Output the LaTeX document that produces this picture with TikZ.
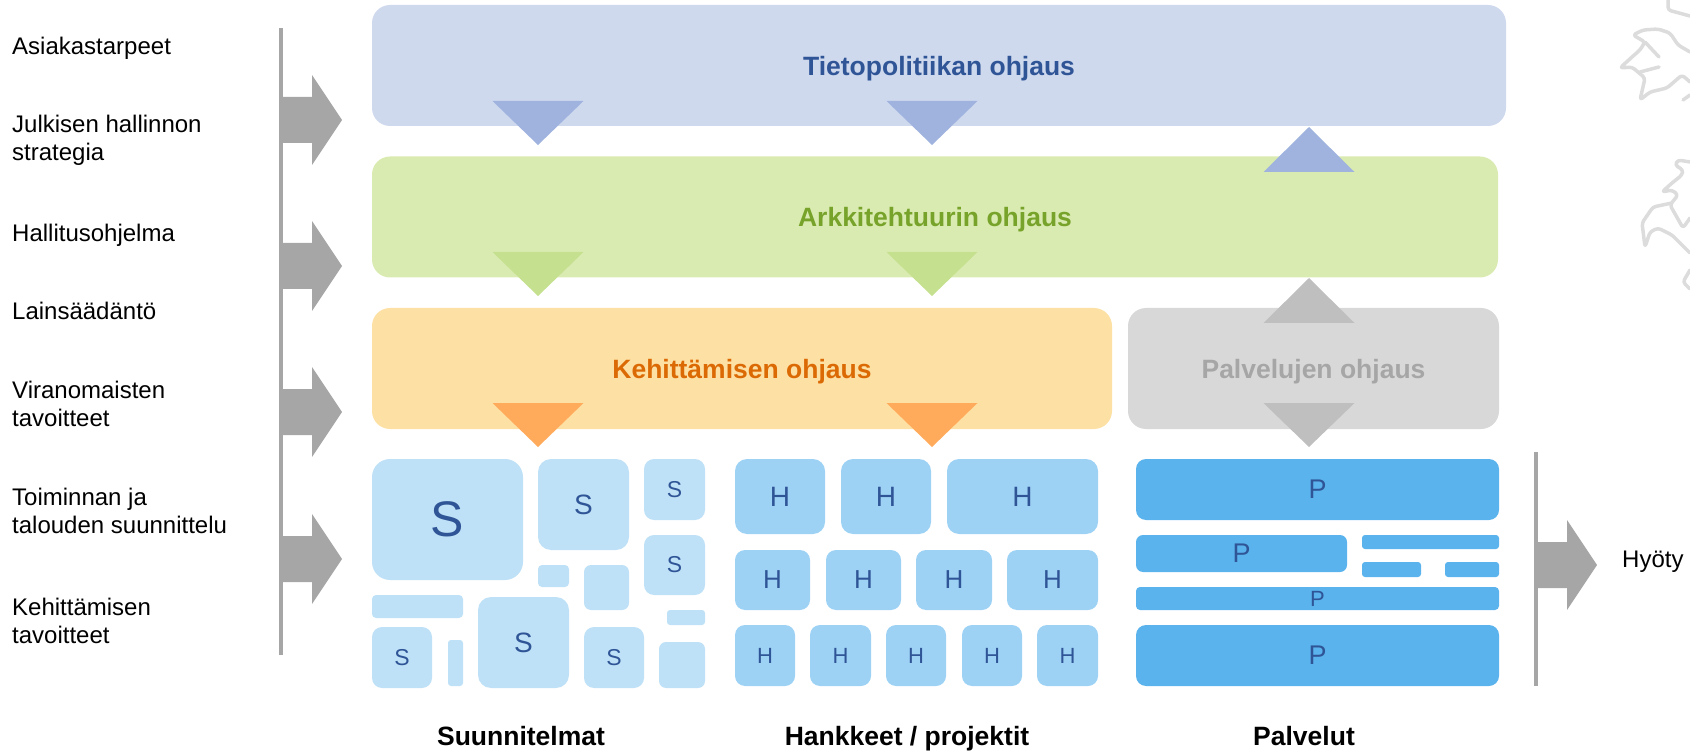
\documentclass[tikz,border=0pt]{standalone}
\usepackage{fontspec}
\setmainfont{Liberation Sans}
\usepackage{tikz}
\definecolor{textblue}{HTML}{2F5597}
\definecolor{tietofill}{HTML}{CFD9EE}
\definecolor{tietotri}{HTML}{9FB3DE}
\definecolor{arkkifill}{HTML}{DAEBB1}
\definecolor{arkkitri}{HTML}{C5E08E}
\definecolor{arkkitext}{HTML}{77A32A}
\definecolor{kehfill}{HTML}{FDE0A4}
\definecolor{kehtri}{HTML}{FFAB5B}
\definecolor{kehtext}{HTML}{DB6A05}
\definecolor{palfill}{HTML}{D8D8D8}
\definecolor{paltri}{HTML}{BFBFBF}
\definecolor{paltext}{HTML}{A6A6A6}
\definecolor{sfill}{HTML}{BFE1F7}
\definecolor{hfill}{HTML}{9DD2F5}
\definecolor{pfill}{HTML}{5AB3EC}
\definecolor{lionline}{HTML}{DCDCDC}
\tikzset{
  tile/.style={rectangle, inner sep=0pt, text=textblue},
  ctrltext/.style={font=\bfseries\fontsize{26.5}{26.5}\selectfont, text height=20pt, text depth=0pt},
  sidetext/.style={anchor=west, align=left, inner sep=0pt, font=\fontsize{24}{28.5}\selectfont},
  grouptext/.style={anchor=base, inner sep=0pt, font=\bfseries\fontsize{26.5}{26.5}\selectfont},
  lion/.style={draw=lionline, line width=3.5pt, line join=round, line cap=round, rounded corners=3pt},
}
\newcommand{\ctrlbox}[6] {\node at (#1) (#2) [tile, ctrltext, minimum width=#3pt, minimum height=121pt, rounded corners=18pt, fill=#4, text=#5] {#6};}
\newcommand{\plan}[6] {\node at (#1) (#2) [tile, minimum width=#3pt, minimum height=#4pt, rounded corners=#5pt, fill=sfill, font=\fontsize{#6}{#6}\selectfont] {S};}
\newcommand{\planempty}[5] {\node at (#1) (#2) [tile, minimum width=#3pt, minimum height=#4pt, rounded corners=#5pt, fill=sfill] {};}
\newcommand{\project}[6] {\node at (#1) (#2) [tile, minimum width=#3pt, minimum height=#4pt, rounded corners=#5pt, fill=hfill, font=\fontsize{#6}{#6}\selectfont] {H};}
\newcommand{\service}[6] {\node at (#1) (#2) [tile, minimum width=#3pt, minimum height=#4pt, rounded corners=#5pt, fill=pfill, font=\fontsize{#6}{#6}\selectfont] {P};}
\newcommand{\serviceempty}[5] {\node at (#1) (#2) [tile, minimum width=#3pt, minimum height=#4pt, rounded corners=#5pt, fill=pfill] {};}
\newcommand{\down}[2] {\fill [#2] (#1) ++(-45.5,0) -- ++(91,0) -- ++(-45.5,44) -- cycle;}
\newcommand{\up}[2] {\fill [#2] (#1) ++(-45.5,0) -- ++(91,0) -- ++(-45.5,-45) -- cycle;}
\newcommand{\bigarrow}[1] {\fill [paltext] (#1) ++(0,-23) -- ++(29,0) -- ++(0,-22) -- ++(30,45) -- ++(-30,45) -- ++(0,-22) -- ++(-29,0) -- cycle;}

\begin{document}
\begin{tikzpicture}[x=1pt,y=-1pt]
\useasboundingbox (0,0) rectangle (1690,751);

% lion watermark
\draw [lion] (1690,16) -- (1668,10) -- (1668,0);
\draw [lion] (1690,52) -- (1678,45) -- (1670,33) -- (1658,29) -- (1643,30) -- (1633,35) -- (1645,42) -- (1640,50) -- (1632,57) -- (1620,68) -- (1632,67) -- (1645,78) -- (1640,100) -- (1650,92) -- (1667,88) -- (1682,75) -- (1690,82);
\draw [lion] (1645,42) -- (1659,57);
\draw [lion] (1640,72) -- (1659,67);
\draw [lion] (1683,100) -- (1690,95);
\draw [lion] (1690,162) -- (1678,160) -- (1675,165) -- (1683,170) -- (1682,175) -- (1672,183) -- (1662,192) -- (1672,190) -- (1678,195) -- (1670,205) -- (1683,228) -- (1690,218);
\draw [lion] (1672,203) -- (1653,207) -- (1642,223) -- (1645,247) -- (1650,232) -- (1658,228) -- (1672,235) -- (1690,253);
\draw [lion] (1690,270) -- (1683,282) -- (1690,289);

% control levels
\ctrlbox {939,65.5}{tieto}{1134}{tietofill}{textblue}{Tietopolitiikan ohjaus}
\ctrlbox {935,217}{arkki}{1126}{arkkifill}{arkkitext}{Arkkitehtuurin ohjaus}
\ctrlbox {742,368.5}{kehitys}{740}{kehfill}{kehtext}{Kehittämisen ohjaus}
\ctrlbox {1313.5,368.5}{palvelu}{371}{palfill}{paltext}{Palvelujen ohjaus}

\down {538,101}{tietotri}
\down {932,101}{tietotri}
\up {1309,172}{tietotri}
\down {538,252}{arkkitri}
\down {932,252}{arkkitri}
\up {1309,323}{paltri}
\down {538,403}{kehtri}
\down {932,403}{kehtri}
\down {1309,403}{paltri}

% left side
\node at (12,48) (asiakas) [sidetext] {Asiakastarpeet};
\node at (12,140.5) (julkinen) [sidetext] {Julkisen hallinnon\\strategia};
\node at (12,235) (hallitus) [sidetext] {Hallitusohjelma};
\node at (12,311) (laki) [sidetext] {Lainsäädäntö};
\node at (12,404) (viran) [sidetext] {Viranomaisten\\tavoitteet};
\node at (12,511) (toiminta) [sidetext] {Toiminnan ja\\talouden suunnittelu};
\node at (12,621) (kehtav) [sidetext] {Kehittämisen\\tavoitteet};

\fill [paltext] (279,28) rectangle (283,655);
\bigarrow {283,120}
\bigarrow {283,266}
\bigarrow {283,412}
\bigarrow {283,559}

% plans
\plan {447.5,519.5}{sa}{151}{121}{18}{50}
\plan {583.5,504.5}{sb}{91}{91}{13}{28}
\plan {674.5,489.5}{sc}{61}{61}{10}{23}
\plan {674.5,565}{sd}{61}{60}{10}{23}
\plan {402,657.5}{se}{60}{61}{10}{23}
\plan {523.5,642.5}{sf}{91}{91}{13}{28}
\plan {614,657.5}{sg}{60}{61}{10}{23}
\planempty {553.5,576}{ea}{31}{22}{4}
\planempty {606.5,587.5}{eb}{45}{45}{7}
\planempty {417.5,606.5}{ec}{91}{23}{4}
\planempty {455.5,663}{ed}{15}{46}{3}
\planempty {686,617.5}{ee}{38}{15}{3}
\planempty {682,665}{ef}{46}{46}{7}

% projects
\project {780,496.5}{ha}{90}{75}{12}{28}
\project {886,496.5}{hb}{90}{75}{12}{28}
\project {1022.5,496.5}{hc}{151}{75}{12}{28}
\project {772.5,580}{hd}{75}{60}{10}{26}
\project {863.5,580}{he}{75}{60}{10}{26}
\project {954,580}{hf}{76}{60}{10}{26}
\project {1052.5,580}{hg}{91}{60}{10}{26}
\project {765,655.5}{hh}{60}{61}{10}{22}
\project {840.5,655.5}{hi}{61}{61}{10}{22}
\project {916,655.5}{hj}{60}{61}{10}{22}
\project {992,655.5}{hk}{60}{61}{10}{22}
\project {1067.5,655.5}{hl}{61}{61}{10}{22}

% services
\service {1317.5,489.5}{pa}{363}{61}{10}{27}
\service {1241.5,553.5}{pb}{211}{37}{7}{27}
\serviceempty {1430.5,542}{pc}{137}{14}{3}
\serviceempty {1391.5,569.5}{pd}{59}{15}{3}
\serviceempty {1472,569.5}{pe}{54}{15}{3}
\service {1317.5,598.5}{pf}{363}{23}{4}{22}
\service {1317.5,655.5}{pg}{363}{61}{10}{27}

% benefit
\fill [paltext] (1534,452) rectangle (1538,686);
\bigarrow {1538,565}
\node at (1622,561.5) (hyoty) [sidetext] {Hyöty};

\node at (521,745.5) (suunnitelmat) [grouptext] {Suunnitelmat};
\node at (907,745.5) (hankkeet) [grouptext] {Hankkeet / projektit};
\node at (1304,745.5) (palvelut) [grouptext] {Palvelut};
\end{tikzpicture}
\end{document}
